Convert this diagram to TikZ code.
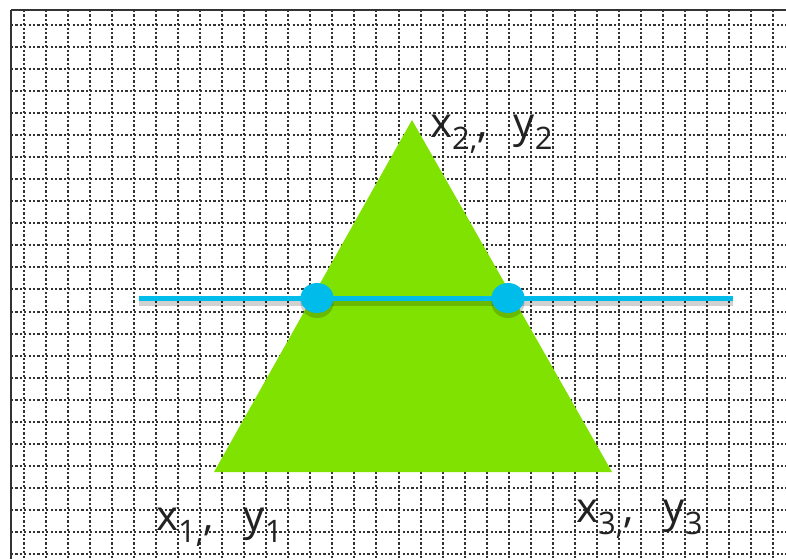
\documentclass[tikz,border=0pt]{standalone}
\usepackage{fontspec}
\setmainfont{Open Sans}
\usetikzlibrary{shapes.geometric}
\definecolor{gridc}{HTML}{333333}
\definecolor{trig}{HTML}{80E200}
\definecolor{cyanl}{HTML}{00BCEB}
\definecolor{txt}{HTML}{222222}
\newcommand{\subt}[1]{\raisebox{-12.5pt}{\fontsize{31}{31}\selectfont #1}}
\tikzset{
  gridline/.style={draw=gridc, line width=2pt, dash pattern=on 2.2pt off 2.2pt},
  border/.style={draw=gridc, line width=2pt},
  lab/.style={inner sep=0pt, anchor=base west, text=txt, font=\fontsize{42}{42}\selectfont},
  dotnode/.style={ellipse, fill=cyanl, minimum width=33pt, minimum height=30pt, inner sep=0pt},
  shadowline/.style={draw=black, opacity=0.18, line width=7pt},
}
\begin{document}
\begin{tikzpicture}[x=1pt,y=-1pt]
\useasboundingbox (0,0) rectangle (786,559);
\fill[white] (0,0) rectangle (786,559);
% grid
\foreach \k in {0,...,34} {
  \draw[gridline] ({24+22.03*\k},10) -- ({24+22.03*\k},559);
}
\foreach \k in {0,...,24} {
  \draw[gridline] (11,{25+22.04*\k}) -- (786,{25+22.04*\k});
}
\draw[border] (11,10) -- (786,10);
\draw[border] (11,10) -- (11,559);
% triangle
\coordinate (A) at (412,120);
\coordinate (B) at (214,472);
\coordinate (C) at (612,472);
\fill[trig] (A) -- (B) -- (C) -- cycle;
% horizontal line
\coordinate (L) at (139,298);
\coordinate (R) at (733,298);
\coordinate (Ls) at (139,302);
\coordinate (Rs) at (733,302);
\draw[shadowline] (Ls) -- (Rs);
\fill[black, opacity=0.18] (317,303) ellipse (16.5pt and 15pt);
\fill[black, opacity=0.18] (508,303) ellipse (16.5pt and 15pt);
\draw[cyanl, line width=5pt] (L) -- (R);
\node[dotnode] (P) at (317,298) {};
\node[dotnode] (Q) at (508,298) {};
% labels
\node[lab] (l2) at (430,137) {x\subt{2,},\hspace*{26pt}y\subt{2}};
\node[lab] (l1) at (156,530) {x\subt{1,},\hspace*{30pt}y\subt{1}};
\node[lab] (l3) at (576,522) {x\subt{3,},\hspace*{30pt}y\subt{3}};
\end{tikzpicture}
\end{document}
